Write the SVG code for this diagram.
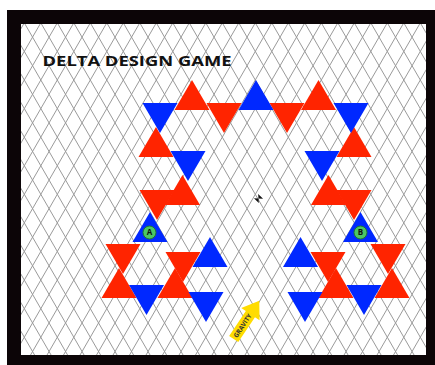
<svg xmlns="http://www.w3.org/2000/svg" width="435" height="365" viewBox="0 0 435 365">
<style>
.grid{fill:none;stroke:#9a9a9a;stroke-width:1}
.r{fill:#ff2400}
.b{fill:#0028ff}
.tok{fill:#4cc764;stroke:#1e7a32;stroke-width:1}
.tl{font-family:"Open Sans","Liberation Sans",sans-serif;font-weight:bold;fill:#111;text-anchor:middle}
</style>
<defs>
<clipPath id="inner"><rect x="21" y="24" width="405" height="331"/></clipPath>
</defs>
<rect x="0" y="0" width="435" height="365" fill="#ffffff"/>
<rect id="frame" x="7" y="10" width="428" height="355" fill="#0c0507"/>
<rect x="21" y="24" width="405" height="331" fill="#ffffff"/>
<g id="grid" clip-path="url(#inner)">
<path class="grid" d="M-186.89,0L23.84,365M-170.39,0L40.34,365M-153.89,0L56.84,365M-137.39,0L73.34,365M-120.89,0L89.84,365M-104.39,0L106.34,365M-87.89,0L122.84,365M-71.39,0L139.34,365M-54.89,0L155.84,365M-38.39,0L172.34,365M-21.89,0L188.84,365M-5.39,0L205.34,365M11.11,0L221.84,365M27.61,0L238.34,365M44.11,0L254.84,365M60.61,0L271.34,365M77.11,0L287.84,365M93.61,0L304.34,365M110.11,0L320.84,365M126.61,0L337.34,365M143.11,0L353.84,365M159.61,0L370.34,365M176.11,0L386.84,365M192.61,0L403.34,365M209.11,0L419.84,365M225.61,0L436.34,365M242.11,0L452.84,365M258.61,0L469.34,365M275.11,0L485.84,365M291.61,0L502.34,365M308.11,0L518.84,365M324.61,0L535.34,365M341.11,0L551.84,365M357.61,0L568.34,365M374.11,0L584.84,365M390.61,0L601.34,365M407.11,0L617.84,365M423.61,0L634.34,365"/>
<path class="grid" d="M20.99,0L-189.74,365M37.49,0L-173.24,365M53.99,0L-156.74,365M70.49,0L-140.24,365M86.99,0L-123.74,365M103.49,0L-107.24,365M119.99,0L-90.74,365M136.49,0L-74.24,365M152.99,0L-57.74,365M169.49,0L-41.24,365M185.99,0L-24.74,365M202.49,0L-8.24,365M218.99,0L8.26,365M235.49,0L24.76,365M251.99,0L41.26,365M268.49,0L57.76,365M284.99,0L74.26,365M301.49,0L90.76,365M317.99,0L107.26,365M334.49,0L123.76,365M350.99,0L140.26,365M367.49,0L156.76,365M383.99,0L173.26,365M400.49,0L189.76,365M416.99,0L206.26,365M433.49,0L222.76,365M449.99,0L239.26,365M466.49,0L255.76,365M482.99,0L272.26,365M499.49,0L288.76,365M515.99,0L305.26,365M532.49,0L321.76,365M548.99,0L338.26,365M565.49,0L354.76,365M581.99,0L371.26,365M598.49,0L387.76,365M614.99,0L404.26,365M631.49,0L420.76,365M647.99,0L437.26,365"/>
</g>
<text id="title" x="42.5" y="65.5" font-family="'Open Sans','Liberation Sans',sans-serif" font-weight="bold" font-size="15" fill="#111" textLength="189" lengthAdjust="spacingAndGlyphs">DELTA DESIGN GAME</text>
<g id="red-pieces">
<g id="r1"><polygon class="r" points="192,80 174.5,110 209.5,110"/></g>
<g id="r2"><polygon class="r" points="206.5,103 241.5,103 224,133"/></g>
<g id="r3"><polygon class="r" points="269.5,103 304.5,103 287,133"/></g>
<g id="r4"><polygon class="r" points="318.5,80 301,110 336,110"/></g>
<g id="r5"><polygon class="r" points="156,127 138.5,157 173.5,157"/></g>
<g id="r6"><polygon class="r" points="354,127 336.5,157 371.5,157"/></g>
<g id="r7"><polygon class="r" points="182.5,175 165,205 200,205"/></g>
<g id="r8"><polygon class="r" points="328.5,175 311,205 346,205"/></g>
<g id="r9"><polygon class="r" points="139.5,190 174.5,190 157,220"/></g>
<g id="r10"><polygon class="r" points="336.5,190 371.5,190 354,220"/></g>
<g id="r11"><polygon class="r" points="105.5,244 140.5,244 123,274"/></g>
<g id="r12"><polygon class="r" points="119,268 101.5,298 136.5,298"/></g>
<g id="r13"><polygon class="r" points="165.5,252 200.5,252 183,282"/></g>
<g id="r14"><polygon class="r" points="175,268 157.5,298 192.5,298"/></g>
<g id="r15"><polygon class="r" points="310.5,252 345.5,252 328,282"/></g>
<g id="r16"><polygon class="r" points="336,268 318.5,298 353.5,298"/></g>
<g id="r17"><polygon class="r" points="370.5,244 405.5,244 388,274"/></g>
<g id="r18"><polygon class="r" points="392,268 374.5,298 409.5,298"/></g>
</g>
<g id="blue-pieces">
<g id="b1"><polygon class="b" points="142.5,103 177.5,103 160,133"/></g>
<g id="b2"><polygon class="b" points="333.5,103 368.5,103 351,133"/></g>
<g id="b3"><polygon class="b" points="256,80 238.5,110 273.5,110"/></g>
<g id="b4"><polygon class="b" points="170.5,151 205.5,151 188,181"/></g>
<g id="b5"><polygon class="b" points="304.5,151 339.5,151 322,181"/></g>
<g id="b6"><polygon class="b" points="150,212 132.5,242 167.5,242"/></g>
<g id="b7"><polygon class="b" points="360.5,212 343,242 378,242"/></g>
<g id="b8"><polygon class="b" points="129,285 164,285 146.5,315"/></g>
<g id="b9"><polygon class="b" points="346.5,285 381.5,285 364,315"/></g>
<g id="b10"><polygon class="b" points="210,237 192.5,267 227.5,267"/></g>
<g id="b11"><polygon class="b" points="300.5,237 283,267 318,267"/></g>
<g id="b12"><polygon class="b" points="188.5,292 223.5,292 206,322"/></g>
<g id="b13"><polygon class="b" points="287.5,292 322.5,292 305,322"/></g>
</g>
<g id="token-a">
<circle class="tok" cx="149.5" cy="232.5" r="6.5"/>
<text class="tl" x="149.5" y="235.4" font-size="8">A</text>
</g>
<g id="token-b">
<circle class="tok" cx="360.5" cy="232.5" r="6.5"/>
<text class="tl" x="360.5" y="235.4" font-size="8">B</text>
</g>
<g id="center-mark" transform="translate(258.5 198.5) rotate(45)">
<path d="M-3.5,-3 L3.5,-3 L-3.5,3 L3.5,3 Z" fill="#111"/>
</g>
<g id="gravity-arrow" transform="translate(233.7 339) rotate(-56.2)">
<polygon points="0,-5.5 30,-5.5 30,-11 46,0 30,11 30,5.5 0,5.5" fill="#ffdc00"/>
<text x="16" y="2.3" font-family="'Open Sans','Liberation Sans',sans-serif" font-weight="bold" font-size="6.5" fill="#333" text-anchor="middle" textLength="27" lengthAdjust="spacingAndGlyphs">GRAVITY</text>
</g>
</svg>
